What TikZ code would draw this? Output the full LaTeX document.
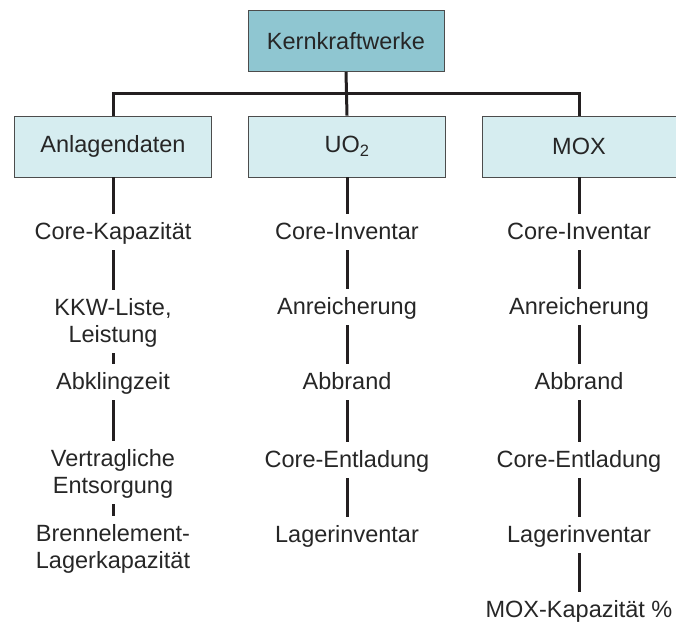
\documentclass[tikz,border=0pt]{standalone}
\usepackage{fontspec}
\setmainfont{Liberation Sans}
\definecolor{kopfblau}{HTML}{8FC6D1}
\definecolor{feldblau}{HTML}{D6EDF0}
\definecolor{strich}{HTML}{231F20}
\definecolor{schrift}{HTML}{262626}
\tikzset{
  kopf/.style={draw=black!70, line width=0.8pt, fill=kopfblau, minimum width=196pt, minimum height=61pt, inner sep=0pt},
  feld/.style={draw=black!70, line width=0.8pt, fill=feldblau, minimum width=197pt, minimum height=61pt, inner sep=0pt},
  posten/.style={anchor=base, inner xsep=0pt, inner ysep=4pt, text height=21pt, text depth=7pt},
  zweizeilig/.style={posten, align=center, text height=48pt},
  verbinder/.style={draw=strich, line width=3pt}
}
\begin{document}
\begin{tikzpicture}[x=1pt, y=-1pt, font=\fontsize{23.5}{27}\selectfont, text=schrift]

  %% ==== Kopf und Spaltenfelder ====
  \node[kopf] (top) at (346,41) {Kernkraftwerke};
  \node[feld] (anl) at (113,146.5) {Anlagendaten};
  \node[feld] (uo)  at (347,146.5) {UO\textsubscript{2}};
  \node[feld, minimum width=194pt] (mox) at (579,146.5) {MOX};

  %% ==== Spalte 1 (Basis = letzte Zeile) ====
  \node[posten] (a1) at (113,239) {Core-Kapazität};
  \node[zweizeilig] (a2) at (113,342) {KKW-Liste,\\Leistung};
  \node[posten] (a3) at (113,389) {Abklingzeit};
  \node[zweizeilig] (a4) at (113,493) {Vertragliche\\Entsorgung};
  \node[zweizeilig] (a5) at (113,568) {Brennelement-\\Lagerkapazität};

  %% ==== Spalte 2 ====
  \node[posten] (u1) at (347,239) {Core-Inventar};
  \node[posten] (u2) at (347,314) {Anreicherung};
  \node[posten] (u3) at (347,389) {Abbrand};
  \node[posten] (u4) at (347,467) {Core-Entladung};
  \node[posten] (u5) at (347,542) {Lagerinventar};

  %% ==== Spalte 3 ====
  \node[posten] (m1) at (579,239) {Core-Inventar};
  \node[posten] (m2) at (579,314) {Anreicherung};
  \node[posten] (m3) at (579,389) {Abbrand};
  \node[posten] (m4) at (579,467) {Core-Entladung};
  \node[posten] (m5) at (579,542) {Lagerinventar};
  \node[posten] (m6) at (579,617) {MOX-Kapazität \%};

  %% ==== Verbindungen ====
  \draw[verbinder] (top.south) -- (uo.north);
  \draw[verbinder] (anl.north) -- ++(0,-22) -| (mox.north);
  \draw[verbinder] (anl.south) -- (a1.north);
  \draw[verbinder] (a1.south) -- (a2.north);
  \draw[verbinder] (a2.south) -- (a3.north);
  \draw[verbinder] (a3.south) -- (a4.north);
  \draw[verbinder] (a4.south) -- (a5.north);
  \draw[verbinder] (uo.south) -- (u1.north);
  \draw[verbinder] (u1.south) -- (u2.north);
  \draw[verbinder] (u2.south) -- (u3.north);
  \draw[verbinder] (u3.south) -- (u4.north);
  \draw[verbinder] (u4.south) -- (u5.north);
  \draw[verbinder] (mox.south) -- (m1.north);
  \draw[verbinder] (m1.south) -- (m2.north);
  \draw[verbinder] (m2.south) -- (m3.north);
  \draw[verbinder] (m3.south) -- (m4.north);
  \draw[verbinder] (m4.south) -- (m5.north);
  \draw[verbinder] (m5.south) -- (m6.north);

  % Rahmen wie Vorlage
  \pgfresetboundingbox
  \path[use as bounding box] (0,0) rectangle (676,622);
\end{tikzpicture}
\end{document}
